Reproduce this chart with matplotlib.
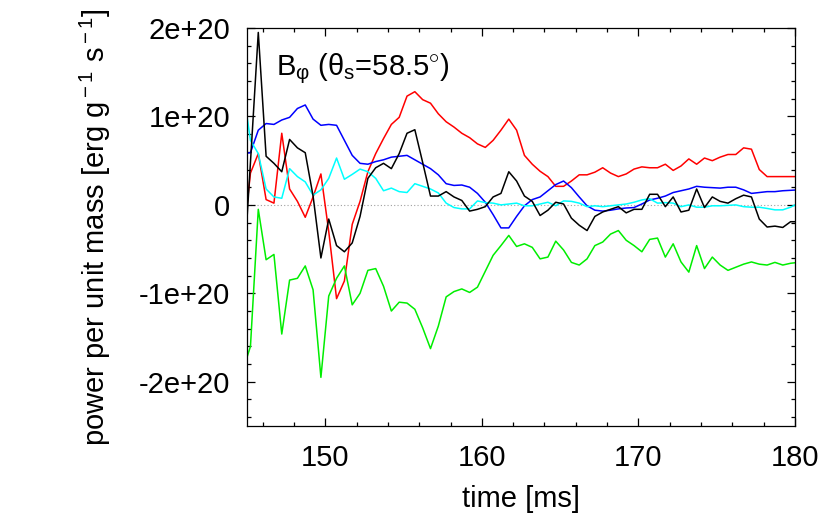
import numpy as np
import matplotlib
matplotlib.use("Agg")
import matplotlib.pyplot as plt

plt.rcParams['font.family'] = ['Liberation Sans', 'DejaVu Sans']
plt.rcParams['mathtext.fontset'] = 'custom'
plt.rcParams['mathtext.rm'] = 'Liberation Sans'
plt.rcParams['mathtext.it'] = 'Liberation Sans'
plt.rcParams['mathtext.default'] = 'rm'

# time samples [ms] (0.5 ms spacing; first and last lie just outside the x-range)
time = np.arange(144.72, 180.3, 0.5)[:72]

# power per unit mass, in units of 1e20 erg g^-1 s^-1
black = [-0.97, 0.48, 1.95, 0.55, 0.47, 0.375, 0.74, 0.645, 0.59, 0.10,
         -0.60, -0.16, -0.46, -0.53, -0.43, -0.13, 0.30, 0.42, 0.47, 0.41,
         0.58, 0.81, 0.85, 0.48, 0.10, 0.10, 0.15, 0.09, 0.05, -0.07,
         -0.05, -0.02, 0.09, 0.13, 0.375, 0.27, 0.10, 0.04, -0.12, -0.06,
         0.03, 0.01, -0.15, -0.23, -0.29, -0.13, -0.08, -0.05, -0.02, -0.09,
         -0.05, -0.05, 0.12, 0.12, -0.02, 0.09, -0.08, -0.06, 0.18, -0.03,
         0.09, 0.04, 0.02, 0.07, 0.11, 0.09, -0.16, -0.25, -0.24, -0.255,
         -0.19, -0.19]
red = [-0.47, 0.36, 0.58, 0.06, 0.02, 0.81, 0.18, 0.04, -0.14, 0.09,
       0.35, -0.30, -1.06, -0.86, -0.22, 0.04, 0.375, 0.58, 0.75, 0.91,
       0.99, 1.23, 1.28, 1.19, 1.15, 1.03, 0.94, 0.88, 0.81, 0.76,
       0.69, 0.65, 0.73, 0.845, 0.97, 0.845, 0.56, 0.46, 0.38, 0.32,
       0.21, 0.21, 0.27, 0.34, 0.34, 0.37, 0.42, 0.36, 0.32, 0.35,
       0.405, 0.43, 0.42, 0.42, 0.46, 0.39, 0.44, 0.52, 0.46, 0.53,
       0.50, 0.54, 0.57, 0.57, 0.645, 0.63, 0.40, 0.32, 0.32, 0.32,
       0.32, 0.32]
blue = [0.58, 0.59, 0.845, 0.92, 0.91, 0.96, 0.99, 1.09, 1.13, 0.97,
        0.90, 0.91, 0.90, 0.73, 0.56, 0.47, 0.46, 0.49, 0.51, 0.54,
        0.55, 0.56, 0.51, 0.46, 0.41, 0.34, 0.24, 0.22, 0.225, 0.20,
        0.13, 0.03, -0.11, -0.26, -0.26, -0.13, -0.01, 0.06, 0.09, 0.16,
        0.23, 0.27, 0.195, 0.09, -0.01, -0.06, -0.07, -0.06, -0.045, -0.035,
        -0.03, 0.01, 0.056, 0.075, 0.10, 0.14, 0.16, 0.18, 0.21, 0.20,
        0.195, 0.19, 0.20, 0.20, 0.17, 0.13, 0.14, 0.15, 0.15, 0.16,
        0.165, 0.17]
cyan = [1.35, 0.73, 0.58, 0.18, 0.09, 0.075, 0.41, 0.32, 0.26, 0.11,
        0.17, 0.30, 0.53, 0.29, 0.345, 0.405, 0.375, 0.30, 0.16, 0.19,
        0.15, 0.14, 0.24, 0.21, 0.18, 0.135, 0.02, -0.03, -0.045, -0.045,
        0.045, 0.026, 0.02, 0.0, 0.01, 0.02, -0.01, -0.01, 0.01, 0.03,
        -0.01, 0.045, 0.04, 0.02, -0.02, -0.01, -0.02, -0.01, 0.0, 0.01,
        0.03, 0.056, 0.07, 0.02, 0.026, 0.02, -0.02, 0.0, -0.026, -0.026,
        -0.01, -0.01, -0.005, 0.0, -0.02, -0.026, -0.026, -0.04, -0.056, -0.056,
        -0.026, 0.02]
green = [-1.88, -1.60, -0.05, -0.62, -0.56, -1.46, -0.85, -0.83, -0.69, -0.96,
         -1.95, -1.03, -0.83, -0.69, -1.13, -1.00, -0.74, -0.72, -0.92, -1.20,
         -1.10, -1.11, -1.18, -1.39, -1.625, -1.37, -1.04, -0.98, -0.95, -0.99,
         -0.93, -0.75, -0.57, -0.46, -0.345, -0.47, -0.44, -0.48, -0.61, -0.59,
         -0.41, -0.51, -0.65, -0.68, -0.61, -0.46, -0.42, -0.33, -0.29, -0.40,
         -0.46, -0.53, -0.39, -0.375, -0.59, -0.44, -0.645, -0.76, -0.46, -0.72,
         -0.59, -0.68, -0.74, -0.705, -0.67, -0.645, -0.67, -0.68, -0.65, -0.68,
         -0.66, -0.65]

scale = 1e20
xticks = [150, 160, 170, 180]
yticks = [-2e20, -1e20, 0, 1e20, 2e20]
ytick_labels = ['-2e+20', '-1e+20', '0', '1e+20', '2e+20']

FS = 21

fig = plt.figure(figsize=(8.3, 5.15), dpi=100)
ax = fig.add_axes([0.2976, 0.1728, 0.6602, 0.7728])

ax.axhline(0, color='#a0a0a0', lw=0.8, ls=(0, (1, 2)), zorder=1)

series = [(red, '#ff0000'), (green, '#00ee00'), (blue, '#0000ff'),
          (cyan, '#00ffff'), (black, '#000000')]
for vals, col in series:
    ax.plot(time, np.array(vals) * scale, color=col, lw=1.1, zorder=2)

ax.set_xlim(145, 180)
ax.set_ylim(-2.5e20, 2e20)
ax.set_xticks(xticks)
ax.set_xticklabels([str(v) for v in xticks])
ax.set_xticks(np.arange(146, 180, 2), minor=True)
ax.set_yticks(yticks)
ax.set_yticklabels(ytick_labels)
ax.set_yticks(np.arange(-2.4e20, 2.0e20, 0.2e20), minor=True)

ax.tick_params(which='both', direction='in', top=True, right=True,
               labelsize=FS, width=0.9)
ax.tick_params(axis='y', which='major', length=5.5, pad=12)
ax.tick_params(axis='x', which='major', length=5.5, pad=13)
ax.tick_params(which='minor', length=2.8)
for s in ax.spines.values():
    s.set_linewidth(0.9)

ax.set_xlabel('time [ms]', fontsize=FS, labelpad=9)
ax.set_ylabel(r'power per unit mass [erg g$^{\rm -1}$ s$^{\rm -1}$]',
              fontsize=FS, labelpad=19)

ax.text(0.053, 0.882, 'B$_{\\mathrm{φ}}$ (θ$_{\\mathrm{s}}$=58.5$^{\\circ}$)',
        transform=ax.transAxes, fontsize=FS, ha='left', va='baseline')

fig.savefig('out.png', dpi=100)
